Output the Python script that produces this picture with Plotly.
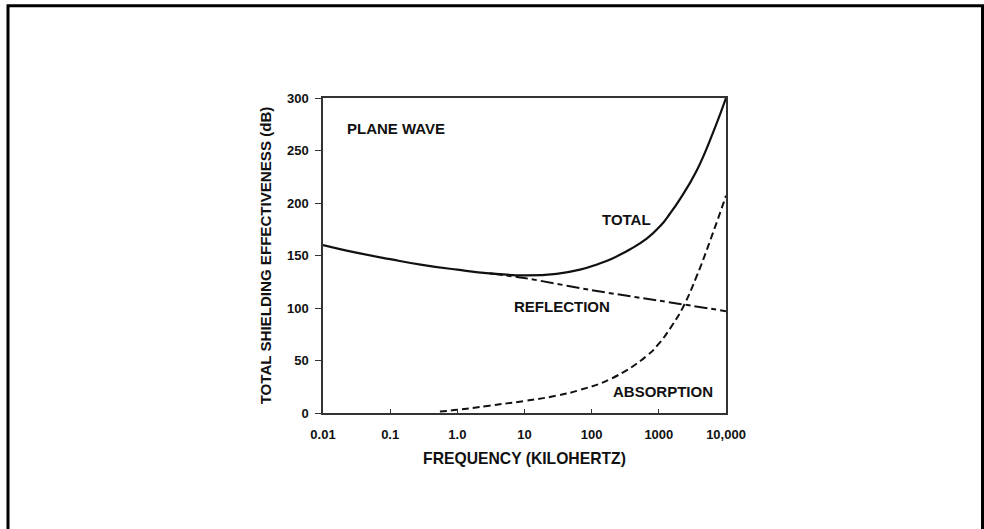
import math
import plotly.graph_objects as go

# ---- data ----
total_freq = [0.01, 0.03, 0.1, 0.3, 1, 3, 10, 30, 67, 120, 200, 375, 660, 1050, 1470, 2075, 3670, 6500, 10000]
total_db = [160, 153, 146.5, 141, 136.5, 133, 131, 132.5, 136.5, 141.5, 147, 156, 166, 178, 190, 204, 231, 268, 300]

refl_freq = [3, 10, 100, 1000, 10000]
refl_db = [133, 128.5, 117, 107, 97]

abs_freq = [0.55, 1, 3, 10, 30, 67, 200, 650, 1000, 1600, 2300, 3700, 5800, 10000]
abs_db = [1.5, 3, 7, 11.5, 16.5, 22, 33, 54, 66, 84, 101, 131, 164, 207]

x_tickvals = [0.01, 0.1, 1, 10, 100, 1000, 10000]
x_ticktext = ["0.01", "0.1", "1.0", "10", "100", "1000", "10,000"]
y_tickvals = [0, 50, 100, 150, 200, 250, 300]

label_text = ["PLANE WAVE", "TOTAL", "REFLECTION", "ABSORPTION"]
label_freq = [0.0214, 134, 6.56, 193]
label_db = [271, 184.5, 101, 20.3]

FONT = "Liberation Sans, Arial, sans-serif"
INK = "#111111"

fig = go.Figure()
fig.add_trace(go.Scatter(x=total_freq, y=total_db, mode="lines",
                         line=dict(color=INK, width=2.2, shape="spline", smoothing=1.3)))
fig.add_trace(go.Scatter(x=refl_freq, y=refl_db, mode="lines",
                         line=dict(color=INK, width=2, dash="13px,4px,5px,4px", shape="spline")))
fig.add_trace(go.Scatter(x=abs_freq, y=abs_db, mode="lines",
                         line=dict(color=INK, width=2, dash="7px,4px", shape="spline", smoothing=1.3)))

for text, fv, yv in zip(label_text, label_freq, label_db):
    fig.add_annotation(x=math.log10(fv), y=yv, xref="x", yref="y", text=text, showarrow=False,
                       xanchor="left", yanchor="middle",
                       font=dict(family=FONT, size=15, color=INK, weight="bold"))

# outer frame (left, top, right)
L, R, T, B = 323, 726, 97.5, 413
W, H = R - L, B - T
def px(x): return (x - L) / W
def py(y): return (B - y) / H
fig.add_shape(type="path", xref="paper", yref="paper",
              path=f"M {px(8)} {py(560)} L {px(8)} {py(5)} L {px(982.5)} {py(5)} L {px(982.5)} {py(560)}",
              line=dict(color="black", width=3))

fig.update_layout(
    width=984, height=529,
    margin=dict(l=L, r=984 - R, t=T, b=529 - B),
    paper_bgcolor="white", plot_bgcolor="white",
    showlegend=False,
    font=dict(family=FONT, color=INK),
)
fig.update_xaxes(type="log", range=[-2, 4], tickvals=x_tickvals, ticktext=x_ticktext,
                 showgrid=False, zeroline=False, showline=True, linecolor="#333333", linewidth=1.5,
                 mirror=True, ticks="inside", ticklen=4, tickcolor="#333333",
                 ticklabelstandoff=9,
                 tickfont=dict(family=FONT, size=13, color=INK, weight="bold"),
                 title=dict(text="FREQUENCY (KILOHERTZ)", standoff=12,
                            font=dict(family=FONT, size=15.7, color=INK, weight="bold")))
fig.update_yaxes(range=[0, 300], tickvals=y_tickvals,
                 showgrid=False, zeroline=False, showline=True, linecolor="#333333", linewidth=1.5,
                 mirror=True, ticks="outside", ticklen=6, tickcolor="#333333",
                 ticklabelstandoff=4,
                 tickfont=dict(family=FONT, size=13, color=INK, weight="bold"),
                 title=dict(text="TOTAL SHIELDING EFFECTIVENESS (dB)", standoff=12,
                            font=dict(family=FONT, size=15.1, color=INK, weight="bold")))

fig.write_html("out.html", config={"displayModeBar": False},
               post_script="document.body.style.margin='0';document.body.style.padding='0';")
